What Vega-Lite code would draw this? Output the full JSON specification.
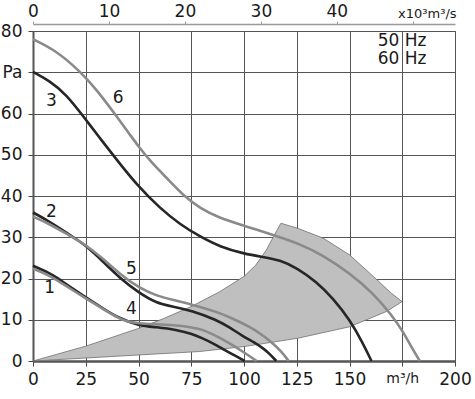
{
  "$schema": "https://vega.github.io/schema/vega-lite/v6.json",
  "width": 422,
  "height": 330,
  "autosize": {"type": "none"},
  "padding": {"left": 33, "top": 31, "right": 20, "bottom": 38},
  "background": "white",
  "config": {
    "view": {"stroke": "#555", "strokeWidth": 1},
    "font": "DejaVu Sans",
    "axis": {"labelFont": "DejaVu Sans", "labelColor": "#1a1a1a", "titleFont": "DejaVu Sans"}
  },
  "datasets": {
    "curves": [
      {"c": "1", "x": 0, "y": 23.1}, {"c": "1", "x": 7.9, "y": 21.3}, {"c": "1", "x": 11.1, "y": 20.3}, {"c": "1", "x": 17.4, "y": 18.0}, {"c": "1", "x": 24.6, "y": 15.6}, {"c": "1", "x": 33.2, "y": 12.7}, {"c": "1", "x": 41.1, "y": 10.3}, {"c": "1", "x": 50, "y": 8.6}, {"c": "1", "x": 58.5, "y": 8.2}, {"c": "1", "x": 67.9, "y": 7.6}, {"c": "1", "x": 75.2, "y": 6.6}, {"c": "1", "x": 80, "y": 5.6}, {"c": "1", "x": 85.3, "y": 4.3}, {"c": "1", "x": 90, "y": 2.9}, {"c": "1", "x": 95, "y": 1.5}, {"c": "1", "x": 100.3, "y": 0},
      {"c": "4", "x": 0, "y": 22.4}, {"c": "4", "x": 7.9, "y": 20.8}, {"c": "4", "x": 17.4, "y": 17.6}, {"c": "4", "x": 24.6, "y": 15.3}, {"c": "4", "x": 33.2, "y": 12.6}, {"c": "4", "x": 41.1, "y": 10.2}, {"c": "4", "x": 44.3, "y": 9.6}, {"c": "4", "x": 50, "y": 9.1}, {"c": "4", "x": 58.5, "y": 8.9}, {"c": "4", "x": 66, "y": 8.7}, {"c": "4", "x": 75.2, "y": 8.2}, {"c": "4", "x": 80, "y": 7.7}, {"c": "4", "x": 86, "y": 6.3}, {"c": "4", "x": 93.2, "y": 4.3}, {"c": "4", "x": 100, "y": 2.1}, {"c": "4", "x": 106, "y": 0},
      {"c": "2", "x": 0, "y": 36.0}, {"c": "2", "x": 7.9, "y": 33.8}, {"c": "2", "x": 17.4, "y": 30.6}, {"c": "2", "x": 24.6, "y": 28.2}, {"c": "2", "x": 33.2, "y": 24.1}, {"c": "2", "x": 41.1, "y": 20.1}, {"c": "2", "x": 50, "y": 16.6}, {"c": "2", "x": 58.5, "y": 14.0}, {"c": "2", "x": 66.4, "y": 13.2}, {"c": "2", "x": 75.2, "y": 12.2}, {"c": "2", "x": 86.9, "y": 10.0}, {"c": "2", "x": 93, "y": 8.2}, {"c": "2", "x": 99.5, "y": 6.0}, {"c": "2", "x": 105, "y": 4.5}, {"c": "2", "x": 109, "y": 3.1}, {"c": "2", "x": 112, "y": 1.8}, {"c": "2", "x": 115.3, "y": 0},
      {"c": "5", "x": 0, "y": 35.0}, {"c": "5", "x": 7.9, "y": 33.2}, {"c": "5", "x": 17.4, "y": 30.4}, {"c": "5", "x": 24.6, "y": 28.3}, {"c": "5", "x": 33.2, "y": 24.8}, {"c": "5", "x": 41.1, "y": 21.1}, {"c": "5", "x": 50, "y": 17.8}, {"c": "5", "x": 58.5, "y": 15.8}, {"c": "5", "x": 66.4, "y": 14.8}, {"c": "5", "x": 75.8, "y": 13.6}, {"c": "5", "x": 86.9, "y": 12.0}, {"c": "5", "x": 95, "y": 10.2}, {"c": "5", "x": 102.7, "y": 8.3}, {"c": "5", "x": 108, "y": 6.6}, {"c": "5", "x": 113.7, "y": 4.3}, {"c": "5", "x": 117.5, "y": 2.4}, {"c": "5", "x": 121.2, "y": 0},
      {"c": "3", "x": 0, "y": 70.1}, {"c": "3", "x": 7.9, "y": 67.9}, {"c": "3", "x": 15.8, "y": 64.6}, {"c": "3", "x": 23.7, "y": 59.4}, {"c": "3", "x": 31.6, "y": 54.1}, {"c": "3", "x": 39.5, "y": 48.9}, {"c": "3", "x": 49, "y": 42.8}, {"c": "3", "x": 60, "y": 37.1}, {"c": "3", "x": 70, "y": 33.0}, {"c": "3", "x": 79, "y": 30.2}, {"c": "3", "x": 88.5, "y": 27.7}, {"c": "3", "x": 100, "y": 26.0}, {"c": "3", "x": 109, "y": 25.2}, {"c": "3", "x": 116.9, "y": 24.5}, {"c": "3", "x": 125.3, "y": 22.5}, {"c": "3", "x": 134.3, "y": 19.2}, {"c": "3", "x": 142.2, "y": 15.2}, {"c": "3", "x": 150.1, "y": 10.0}, {"c": "3", "x": 156.4, "y": 4.3}, {"c": "3", "x": 160.4, "y": 0},
      {"c": "6", "x": 0, "y": 78.0}, {"c": "6", "x": 11.1, "y": 75.2}, {"c": "6", "x": 22.1, "y": 70.3}, {"c": "6", "x": 30, "y": 65.9}, {"c": "6", "x": 39.5, "y": 59.4}, {"c": "6", "x": 45.8, "y": 55.0}, {"c": "6", "x": 50, "y": 52.0}, {"c": "6", "x": 55.3, "y": 48.6}, {"c": "6", "x": 64.8, "y": 43.6}, {"c": "6", "x": 72, "y": 39.8}, {"c": "6", "x": 79, "y": 37.1}, {"c": "6", "x": 88.5, "y": 34.6}, {"c": "6", "x": 100, "y": 32.8}, {"c": "6", "x": 115.4, "y": 30.3}, {"c": "6", "x": 125.3, "y": 28.6}, {"c": "6", "x": 137.4, "y": 25.7}, {"c": "6", "x": 150.1, "y": 21.3}, {"c": "6", "x": 161.3, "y": 16.4}, {"c": "6", "x": 169.9, "y": 11.2}, {"c": "6", "x": 175.4, "y": 7.1}, {"c": "6", "x": 180.1, "y": 2.7}, {"c": "6", "x": 183.3, "y": 0}
    ],
    "region": [
      {"i": 0, "x": 0, "y": 0}, {"i": 1, "x": 25, "y": 3.6}, {"i": 2, "x": 50, "y": 7.9}, {"i": 3, "x": 62, "y": 10.3}, {"i": 4, "x": 75, "y": 13.2}, {"i": 5, "x": 88.5, "y": 16.8}, {"i": 6, "x": 100, "y": 20.5}, {"i": 7, "x": 105.5, "y": 23.2}, {"i": 8, "x": 110.6, "y": 26.9}, {"i": 9, "x": 114, "y": 30.2}, {"i": 10, "x": 117.5, "y": 33.4}, {"i": 11, "x": 125.3, "y": 32.2}, {"i": 12, "x": 137.4, "y": 29.8}, {"i": 13, "x": 150.1, "y": 25.7}, {"i": 14, "x": 161.3, "y": 20.5}, {"i": 15, "x": 169.9, "y": 16.4}, {"i": 16, "x": 174.9, "y": 14.4}, {"i": 17, "x": 167.5, "y": 12.0}, {"i": 18, "x": 150.1, "y": 8.3}, {"i": 19, "x": 125.3, "y": 5.5}, {"i": 20, "x": 100, "y": 3.5}, {"i": 21, "x": 79, "y": 2.3}, {"i": 22, "x": 0, "y": 0}
    ],
    "labels": [
      {"t": "1", "x": 7.9, "y": 17.6}, {"t": "2", "x": 8.7, "y": 36.2}, {"t": "3", "x": 8.7, "y": 63.0},
      {"t": "4", "x": 46.6, "y": 12.5}, {"t": "5", "x": 46.6, "y": 22.3}, {"t": "6", "x": 40.3, "y": 63.8}
    ],
    "legend": [
      {"t": "50 Hz", "x": 163.4, "y": 77.6}, {"t": "60 Hz", "x": 163.4, "y": 73.1}
    ],
    "topscale": [{"q": 0}, {"q": 55.556}]
  },
  "layer": [
    {
      "layer": [
        {
          "data": {"name": "region"},
          "mark": {"type": "line", "fill": "#bfbfbf", "stroke": "#6e6e6e", "strokeWidth": 0.8},
          "encoding": {
            "x": {
              "field": "x", "type": "quantitative",
              "scale": {"domain": [0, 200], "nice": false, "zero": false},
              "axis": {
                "orient": "bottom", "title": null, "values": [0, 25, 50, 75, 100, 125, 150, 175, 200],
                "labelExpr": "datum.value == 175 ? 'm³/h' : datum.label",
                "labelFontSize": {"condition": {"test": "datum.value == 175", "value": 14}, "value": 17},
                "labelFlush": false, "labelPadding": 5, "tickSize": 5, "tickColor": "#444",
                "domainColor": "#555", "domainWidth": 2.5,
                "grid": true, "gridColor": "#555", "gridWidth": 1, "gridOpacity": 1
              }
            },
            "y": {
              "field": "y", "type": "quantitative",
              "scale": {"domain": [0, 80], "nice": false, "zero": false},
              "axis": {
                "title": null, "values": [0, 10, 20, 30, 40, 50, 60, 70, 80],
                "labelExpr": "datum.value == 70 ? 'Pa' : datum.label",
                "labelFontSize": 17, "labelFlush": false, "labelPadding": 6, "tickSize": 5, "tickColor": "#444",
                "domainColor": "#555", "domainWidth": 2,
                "grid": true, "gridColor": "#555", "gridWidth": 1, "gridOpacity": 1
              }
            },
            "order": {"field": "i", "type": "quantitative"}
          }
        },
        {
          "data": {"name": "curves"},
          "mark": {"type": "line", "strokeWidth": 2.6, "interpolate": "basis"},
          "encoding": {
            "x": {"field": "x", "type": "quantitative"},
            "y": {"field": "y", "type": "quantitative"},
            "detail": {"field": "c"},
            "color": {
              "field": "c", "type": "nominal",
              "scale": {"domain": ["1", "2", "3", "4", "5", "6"], "range": ["#262626", "#262626", "#262626", "#8a8a8a", "#8a8a8a", "#8a8a8a"]},
              "legend": null
            }
          }
        },
        {
          "data": {"name": "labels"},
          "mark": {"type": "text", "fontSize": 17, "font": "DejaVu Sans", "color": "#1a1a1a", "align": "center", "baseline": "middle"},
          "encoding": {
            "x": {"field": "x", "type": "quantitative"},
            "y": {"field": "y", "type": "quantitative"},
            "text": {"field": "t"}
          }
        },
        {
          "data": {"name": "legend"},
          "mark": {"type": "text", "fontSize": 17, "font": "DejaVu Sans", "color": "#1a1a1a", "align": "left", "baseline": "middle"},
          "encoding": {
            "x": {"field": "x", "type": "quantitative"},
            "y": {"field": "y", "type": "quantitative"},
            "text": {"field": "t"}
          }
        }
      ]
    },
    {
      "data": {"name": "topscale"},
      "mark": {"type": "point", "opacity": 0},
      "encoding": {
        "x": {
          "field": "q", "type": "quantitative",
          "scale": {"domain": [0, 55.556], "nice": false, "zero": false},
          "axis": {
            "orient": "top", "title": null, "offset": 7, "values": [0, 10, 20, 30, 40, 50],
            "labelExpr": "datum.value == 50 ? 'x10³m³/s' : datum.label",
            "labelFontSize": {"condition": {"test": "datum.value == 50", "value": 13}, "value": 17},
            "labelOffset": {"condition": {"test": "datum.value == 50", "value": 14}, "value": 0},
            "labelFlush": false, "labelPadding": 1, "tickSize": 3, "tickColor": "#999",
            "domainColor": "#999", "domainWidth": 1.5, "grid": false
          }
        }
      }
    }
  ],
  "resolve": {"scale": {"x": "independent"}, "axis": {"x": "independent"}}
}
